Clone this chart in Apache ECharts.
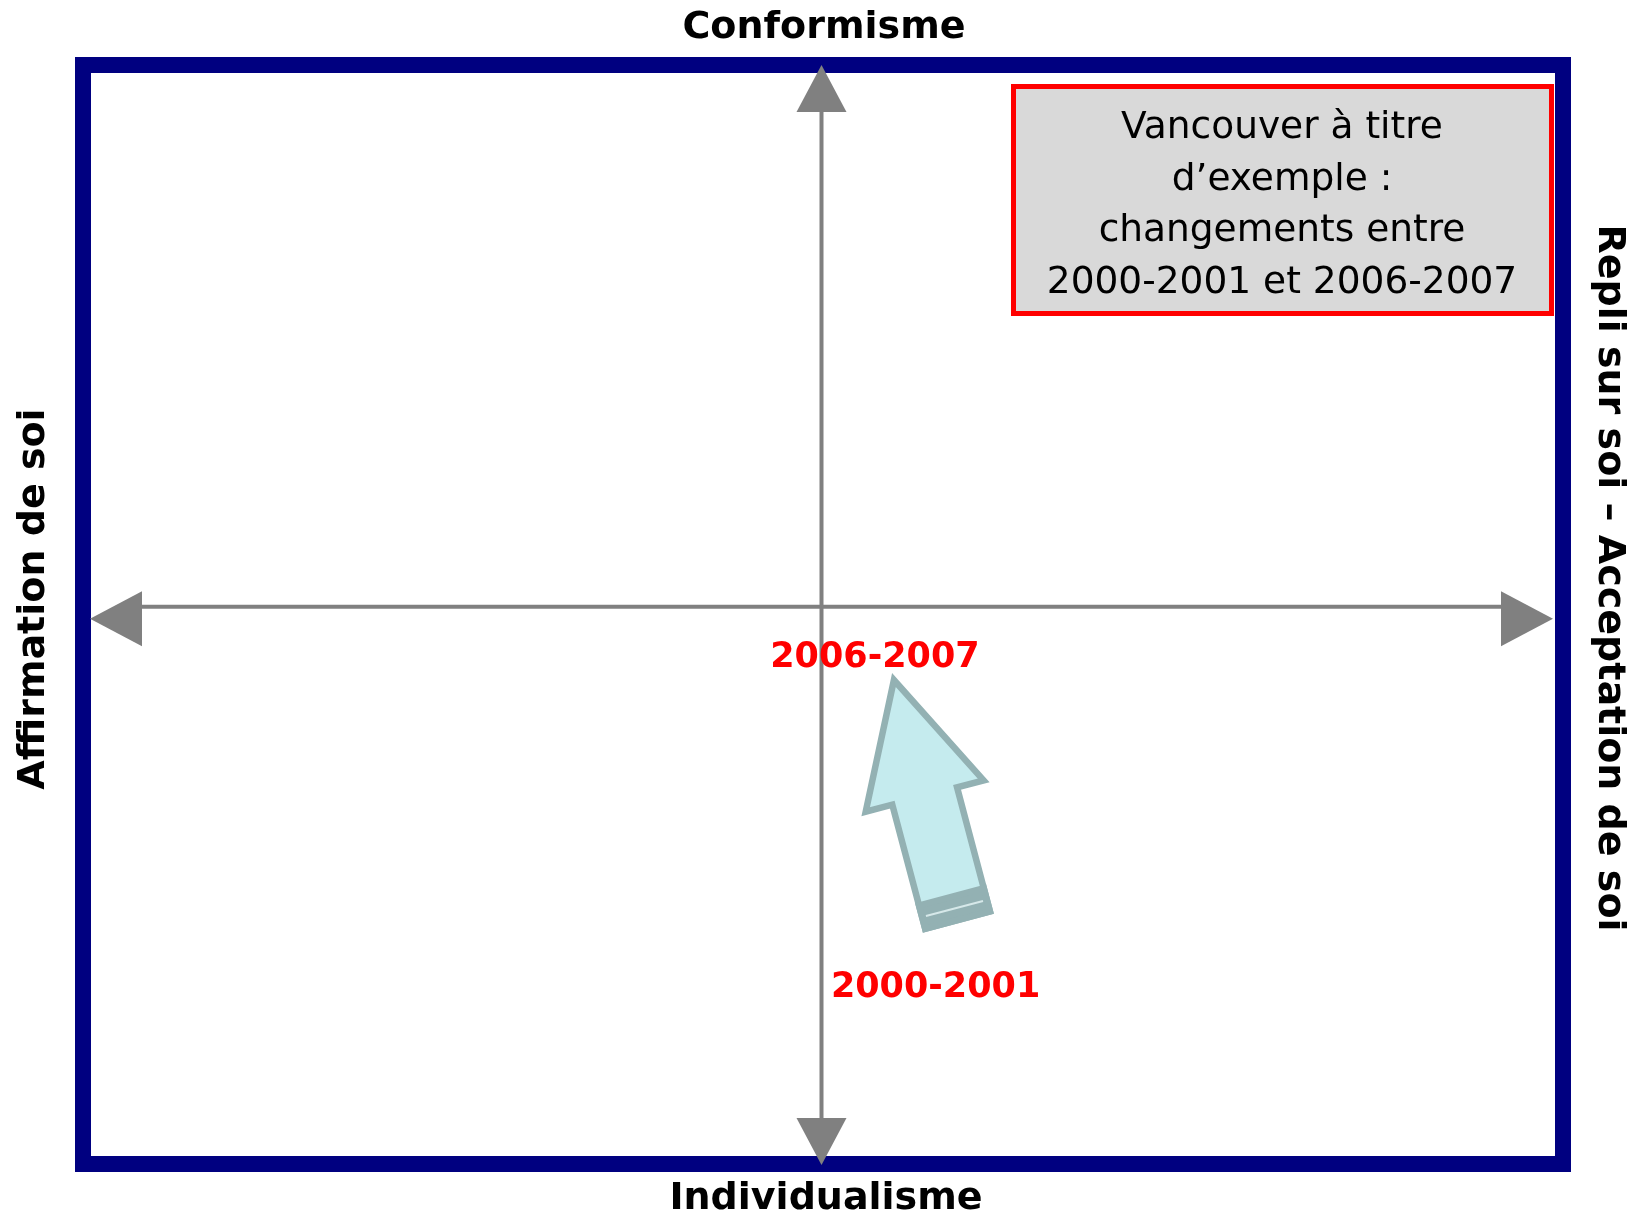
<!DOCTYPE html>
<html>
<head>
<meta charset="utf-8">
<title>Vancouver à titre d’exemple</title>
<script src="https://cdn.jsdelivr.net/npm/echarts@6/dist/echarts.min.js"></script>
<style>
  html, body {margin: 0; padding: 0; background: #fff;}
  #chart {width: 1635px; height: 1217px;}
</style>
</head>
<body>
<div id="chart"></div>
<script>
// pole labels of the two axes
const poleTop = 'Conformisme';
const poleBottom = 'Individualisme';
const poleLeft = 'Affirmation de soi';
const poleRight = 'Repli sur soi – Acceptation de soi';

// note in the top right corner
const noteLines = ['Vancouver à titre', 'd’exemple :', 'changements entre', '2000-2001 et 2006-2007'];

// Vancouver on the map, first and second period
// x : affirmation (-) -> repli (+), y : individualisme (-) -> conformisme (+)
const periods = ['2000-2001', '2006-2007'];
const posX = [1.86, 0.99];
const posY = [-5.78, -1.35];

const xMin = -10, xMax = 10;
const yMin = -10.3, yMax = 10;

const gray = '#808080';
const navy = '#000080';
const red = '#ff0000';
const bold = 'bold 38px "DejaVu Sans"';

const chart = echarts.init(document.getElementById('chart'));

// the cross with its four arrow heads
function renderCross(params, api) {
  const c = api.coord([0, 0]);
  const l = api.coord([xMin, 0]);
  const r = api.coord([xMax, 0]);
  const t = api.coord([0, yMax]);
  const b = api.coord([0, yMin]);
  const hl = 52, hw = 27.5, drop = 12;   // horizontal heads sit a bit low
  const vl = 47, vw = 25;
  const head = pts => ({type: 'polygon', shape: {points: pts}, style: {fill: gray}});
  return {
    type: 'group',
    children: [
      {type: 'line', shape: {x1: l[0] + hl, y1: c[1], x2: r[0] - hl, y2: c[1]},
       style: {stroke: gray, lineWidth: 4}},
      {type: 'line', shape: {x1: c[0], y1: t[1] + vl, x2: c[0], y2: b[1] - vl},
       style: {stroke: gray, lineWidth: 4}},
      head([[l[0], c[1] + drop], [l[0] + hl, c[1] + drop - hw], [l[0] + hl, c[1] + drop + hw]]),
      head([[r[0], c[1] + drop], [r[0] - hl, c[1] + drop - hw], [r[0] - hl, c[1] + drop + hw]]),
      head([[c[0], t[1]], [c[0] - vw, t[1] + vl], [c[0] + vw, t[1] + vl]]),
      head([[c[0], b[1]], [c[0] - vw, b[1] - vl], [c[0] + vw, b[1] - vl]])
    ]
  };
}

// block arrow from the first period to the second
function renderShift(params, api) {
  const from = api.coord([api.value(0), api.value(1)]);
  const to = api.coord([api.value(2), api.value(3)]);
  const dx = to[0] - from[0], dy = to[1] - from[1];
  const len = Math.sqrt(dx * dx + dy * dy);
  const ux = dx / len, uy = dy / len;
  const nx = -uy, ny = ux;
  const pt = (a, s) => [from[0] + ux * a + nx * s, from[1] + uy * a + ny * s];
  const headLen = 120, headW = 61, shaftW = 33.5, band = 24;
  const body = [pt(0, -shaftW), pt(len - headLen, -shaftW), pt(len - headLen, -headW),
    pt(len, 0), pt(len - headLen, headW), pt(len - headLen, shaftW), pt(0, shaftW)];
  const p1 = pt(12, -shaftW + 4), p2 = pt(12, shaftW - 4);
  return {
    type: 'group',
    children: [
      {type: 'polygon', shape: {points: body},
       style: {fill: '#c5ebee', stroke: '#93b1b3', lineWidth: 6.5, lineJoin: 'miter'}},
      {type: 'polygon', shape: {points: [pt(0, -shaftW), pt(band, -shaftW), pt(band, shaftW), pt(0, shaftW)]},
       style: {fill: '#93b1b3', stroke: '#93b1b3', lineWidth: 6.5}},
      {type: 'line', shape: {x1: p1[0], y1: p1[1], x2: p2[0], y2: p2[1]},
       style: {stroke: '#d6e8e9', lineWidth: 2}},
      {type: 'text', style: {text: periods[1], x: to[0] - 19, y: to[1] - 22,
        font: 'bold 35px "DejaVu Sans"', fill: red, align: 'center', verticalAlign: 'middle'}, z2: 10},
      {type: 'text', style: {text: periods[0], x: from[0] - 22, y: from[1] + 68,
        font: 'bold 35px "DejaVu Sans"', fill: red, align: 'center', verticalAlign: 'middle'}, z2: 10}
    ]
  };
}

const option = {
  backgroundColor: '#fff',
  animation: false,
  grid: {left: 90, right: 82, top: 65, bottom: 52},
  xAxis: {type: 'value', min: xMin, max: xMax, show: false},
  yAxis: {type: 'value', min: yMin, max: yMax, show: false},
  graphic: [
    {type: 'rect', z: 0, shape: {x: 83, y: 65, width: 1480, height: 1099},
     style: {fill: 'none', stroke: navy, lineWidth: 16}},
    {type: 'rect', z: 1, shape: {x: 1013.5, y: 86.5, width: 538, height: 227},
     style: {fill: '#d9d9d9', stroke: red, lineWidth: 5}},
    {type: 'text', z: 2, style: {text: noteLines.join('\n'), x: 1282, y: 206, lineHeight: 51.5,
      font: '37.5px "DejaVu Sans"', fill: '#000', align: 'center', verticalAlign: 'middle'}},
    {type: 'text', z: 2, style: {text: poleTop, x: 824, y: 28, font: bold, fill: '#000',
      align: 'center', verticalAlign: 'middle'}},
    {type: 'text', z: 2, style: {text: poleBottom, x: 826, y: 1199, font: bold, fill: '#000',
      align: 'center', verticalAlign: 'middle'}},
    {type: 'text', z: 2, x: 34, y: 599, rotation: Math.PI / 2,
     style: {text: poleLeft, x: 0, y: 0, font: bold, fill: '#000', align: 'center', verticalAlign: 'middle'}},
    {type: 'text', z: 2, x: 1609, y: 578, rotation: -Math.PI / 2,
     style: {text: poleRight, x: 0, y: 0, font: bold, fill: '#000', align: 'center', verticalAlign: 'middle'}}
  ],
  series: [
    {type: 'custom', name: 'axes', renderItem: renderCross, data: [[0, 0]], silent: true, z: 3},
    {type: 'custom', name: 'Vancouver', renderItem: renderShift,
     encode: {x: [0, 2], y: [1, 3]},
     data: [[posX[0], posY[0], posX[1], posY[1]]], silent: true, z: 4}
  ]
};

chart.setOption(option);
</script>
</body>
</html>
